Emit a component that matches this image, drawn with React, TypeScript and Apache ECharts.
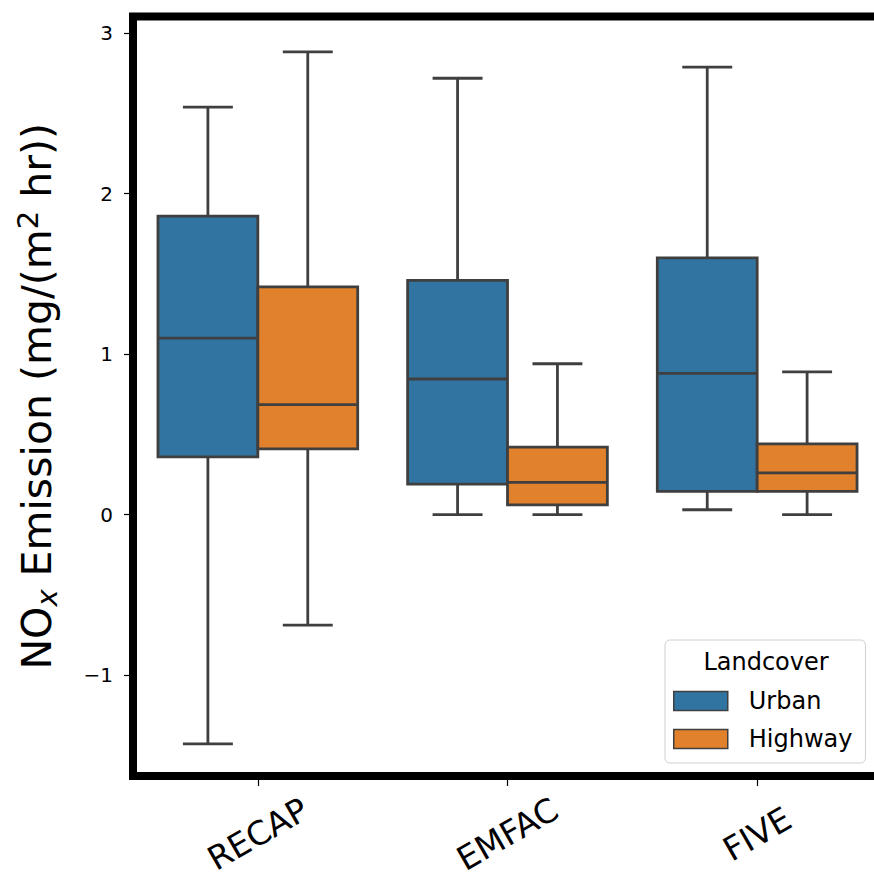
import React, { useEffect, useRef } from 'react';
import * as echarts from 'echarts';

const categories = ['RECAP', 'EMFAC', 'FIVE'];
const seriesNames = ['Urban', 'Highway'];

const urbanMin = [-1.43, 0.0, 0.03];
const urbanQ1 = [0.36, 0.19, 0.145];
const urbanMedian = [1.1, 0.845, 0.88];
const urbanQ3 = [1.86, 1.46, 1.6];
const urbanMax = [2.54, 2.72, 2.79];

const highwayMin = [-0.69, 0.0, 0.0];
const highwayQ1 = [0.41, 0.06, 0.145];
const highwayMedian = [0.685, 0.2, 0.26];
const highwayQ3 = [1.42, 0.42, 0.44];
const highwayMax = [2.885, 0.94, 0.89];

const yTicks = [-1, 0, 1, 2, 3];

const FONT = '"DejaVu Sans", sans-serif';
const COLORS = ['#3274a1', '#e1812c'];
const EDGE = '#3f3f3f';

function buildData(mins: number[], q1s: number[], meds: number[], q3s: number[], maxs: number[]) {
  return categories.map((_, i) => [i, mins[i], q1s[i], meds[i], q3s[i], maxs[i]]);
}

const makeRender = (offsetFrac: number) => (params: any, api: any) => {
  const idx = api.value(0);
  const band = api.size([1, 0])[0];
  const w = band * 0.4;
  const cx = api.coord([idx, 0])[0] + offsetFrac * band;
  const y = (d: number) => api.coord([idx, api.value(d)])[1];
  const yMin = y(1), yQ1 = y(2), yMed = y(3), yQ3 = y(4), yMax = y(5);
  const color = api.visual('color');
  const ls = { stroke: EDGE, lineWidth: 2.8 };
  const cap = w / 4;
  return {
    type: 'group',
    children: [
      { type: 'line', shape: { x1: cx, y1: yQ1, x2: cx, y2: yMin }, style: ls },
      { type: 'line', shape: { x1: cx, y1: yQ3, x2: cx, y2: yMax }, style: ls },
      { type: 'line', shape: { x1: cx - cap, y1: yMin, x2: cx + cap, y2: yMin }, style: ls },
      { type: 'line', shape: { x1: cx - cap, y1: yMax, x2: cx + cap, y2: yMax }, style: ls },
      {
        type: 'rect',
        shape: { x: cx - w / 2, y: yQ3, width: w, height: yQ1 - yQ3 },
        style: { fill: color, stroke: EDGE, lineWidth: 2.8 },
      },
      { type: 'line', shape: { x1: cx - w / 2, y1: yMed, x2: cx + w / 2, y2: yMed }, style: ls },
    ],
  };
};

export default function App() {
  const ref = useRef<HTMLDivElement>(null);
  useEffect(() => {
    if (!ref.current) return;
    const chart = echarts.init(ref.current, null, { renderer: 'svg' });
    const option: any = {
      animation: false,
      backgroundColor: '#ffffff',
      grid: {
        left: 133,
        top: 16.5,
        width: 749,
        height: 759.5,
        show: true,
        borderWidth: 8,
        borderColor: '#000',
        backgroundColor: 'transparent',
        containLabel: false,
        outerBoundsMode: 'none',
      },
      xAxis: {
        type: 'category',
        data: categories,
        axisLine: { show: false, onZero: false },
        axisTick: { show: true, alignWithLabel: true, length: 10, lineStyle: { color: '#000', width: 1.2 } },
        axisLabel: {
          rotate: 30,
          align: 'center',
          verticalAlign: 'middle',
          margin: 58,
          fontSize: 33,
          fontFamily: FONT,
          color: '#000',
        },
        splitLine: { show: false },
      },
      yAxis: {
        type: 'value',
        min: -1.63,
        max: 3.105,
        axisLine: { show: false },
        axisTick: { show: true, length: 9, customValues: yTicks, lineStyle: { color: '#000', width: 1.2 } },
        axisLabel: {
          customValues: yTicks,
          margin: 20,
          fontSize: 20,
          fontFamily: FONT,
          color: '#000',
          formatter: (v: number) => String(v).replace('-', '\u2212'),
        },
        splitLine: { show: false },
        name: '{a|NO}{sub|x}{a| Emission (mg/(m}{sup|2}{a| hr))}',
        nameLocation: 'middle',
        nameRotate: 90,
        nameGap: 72,
        nameTextStyle: {
          fontFamily: FONT,
          color: '#000',
          rich: {
            a: { fontSize: 41, fontFamily: FONT, color: '#000', lineHeight: 48 },
            sub: { fontSize: 29, fontFamily: FONT, fontStyle: 'italic', color: '#000', lineHeight: 24, verticalAlign: 'bottom' },
            sup: { fontSize: 29, fontFamily: FONT, color: '#000', lineHeight: 24, verticalAlign: 'top' },
          },
        },
      },
      legend: {
        orient: 'vertical',
        left: 665,
        top: 640,
        data: seriesNames.map((n) => ({ name: n, icon: 'rect' })),
        itemWidth: 54,
        itemHeight: 19,
        itemGap: 14,
        padding: [49, 13, 12, 8],
        borderColor: '#d0d0d0',
        borderWidth: 1,
        borderRadius: 5,
        backgroundColor: 'rgba(255,255,255,0.85)',
        itemStyle: { borderColor: EDGE, borderWidth: 1.5 },
        textStyle: { fontSize: 24, fontFamily: FONT, color: '#000', padding: [0, 0, 0, 16] },
      },
      graphic: [
        {
          type: 'text',
          x: 766,
          y: 662,
          z: 100,
          style: {
            text: 'Landcover',
            align: 'center',
            verticalAlign: 'middle',
            fontSize: 24,
            fontFamily: FONT,
            fill: '#000',
          },
        },
      ],
      series: [
        {
          name: seriesNames[0],
          type: 'custom',
          itemStyle: { color: COLORS[0] },
          renderItem: makeRender(-0.2),
          encode: { x: 0, y: [1, 2, 3, 4, 5] },
          data: buildData(urbanMin, urbanQ1, urbanMedian, urbanQ3, urbanMax),
        },
        {
          name: seriesNames[1],
          type: 'custom',
          itemStyle: { color: COLORS[1] },
          renderItem: makeRender(0.2),
          encode: { x: 0, y: [1, 2, 3, 4, 5] },
          data: buildData(highwayMin, highwayQ1, highwayMedian, highwayQ3, highwayMax),
        },
      ],
    };
    chart.setOption(option);
    return () => chart.dispose();
  }, []);
  return (
    <div
      ref={ref}
      style={{ position: 'fixed', left: 0, top: 0, width: 874, height: 879, background: '#fff' }}
    />
  );
}
